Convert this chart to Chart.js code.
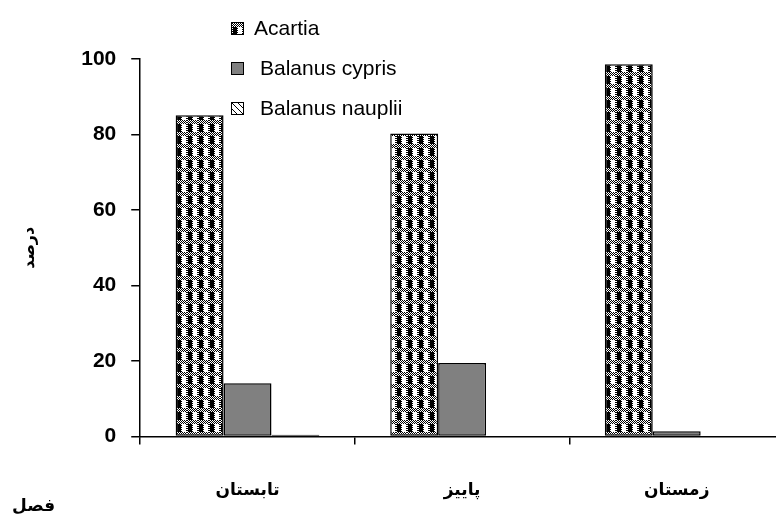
<!DOCTYPE html>
<html>
<head>
<meta charset="utf-8">
<script src="https://cdn.jsdelivr.net/npm/chart.js@4/dist/chart.umd.min.js"></script>
<style>
  body { margin: 0; background: #fff; overflow: hidden; width: 776px; height: 524px; position: relative; }
  #legend { position: absolute; left: 231px; top: 16px; display: flex; flex-direction: column; gap: 16px;
            font-family: "Liberation Sans", Arial, sans-serif; font-size: 21px; color: #000; }
  #legend div { display: flex; align-items: center; height: 24px; }
  #legend span.box { width: 11px; height: 11px; border: 1px solid #000; margin-right: 10px; display: inline-block; }
  #legend div.sp span.box { margin-right: 16px; }
</style>
</head>
<body>
<canvas id="chart" width="784" height="524"></canvas>
<div id="legend"></div>
<script>
var seasons = ["تابستان", "پاییز", "زمستان"];
var acartia = [85.1, 80.3, 98.6];
var cypris = [14.1, 19.5, 1.4];
var nauplii = [0.5, 0, 0];
var yTicks = [0, 20, 40, 60, 80, 100];

// pattern tiles, like the excel fills
function checkTile() {
    var c = document.createElement('canvas');
    c.width = 11; c.height = 12;
    var g = c.getContext('2d');
    g.fillStyle = '#fff';
    g.fillRect(0, 0, 11, 12);
    g.fillStyle = '#000';
    for (var y = 0; y < 12; y++) {
        for (var x = 0; x < 11; x++) {
            var dotted = y < 4 || x == 0 || x == 5 || x == 10;
            if (dotted && (x + y) % 2 == 0) g.fillRect(x, y, 1, 1);
        }
    }
    g.fillRect(1, 4, 4, 8);
    return c;
}
function diagTile() {
    var c = document.createElement('canvas');
    c.width = 6; c.height = 6;
    var g = c.getContext('2d');
    g.fillStyle = '#fff';
    g.fillRect(0, 0, 6, 6);
    g.fillStyle = '#000';
    for (var i = 0; i < 6; i++) g.fillRect(i, i, 1, 1);
    return c;
}

var ctx = document.getElementById("chart").getContext('2d');
var tiles = [checkTile(), null, diagTile()];
var fills = [ctx.createPattern(tiles[0], 'repeat'), '#808080', ctx.createPattern(tiles[2], 'repeat')];
var names = ["Acartia", "Balanus cypris", "Balanus nauplii"];
var series = [acartia, cypris, nauplii];

var datasets = series.map(function (d, i) {
    return {
        label: names[i],
        data: d,
        backgroundColor: fills[i],
        borderColor: '#000',
        borderWidth: 1.5,
        borderSkipped: false,
        categoryPercentage: 0.67,
        barPercentage: 1
    };
});

// x axis name sits bottom-left, under the y axis, as in the excel chart
var xName = {
    id: 'xName',
    afterDraw: function (chart) {
        var c = chart.ctx;
        c.save();
        c.font = 'bold 17px "DejaVu Sans"';
        c.fillStyle = '#000';
        c.textAlign = 'left';
        c.textBaseline = 'middle';
        c.fillText('فصل', 12, 507);
        c.restore();
    }
};

var chart = new Chart(ctx, {
    type: 'bar',
    data: { labels: seasons, datasets: datasets },
    options: {
        responsive: false,
        animation: false,
        layout: { padding: { left: 20, top: 59, bottom: -13, right: 0 } },
        plugins: {
            legend: { display: false },
            tooltip: { enabled: false }
        },
        scales: {
            x: {
                grid: { offset: true, drawOnChartArea: false, tickLength: 8, color: '#000', lineWidth: 1.5 },
                border: { color: '#000', width: 1.5 },
                ticks: { color: '#000', padding: 36, font: { family: 'DejaVu Sans', weight: 'bold', size: 17 } }
            },
            y: {
                min: 0,
                max: 100,
                afterBuildTicks: function (axis) {
                    axis.ticks = yTicks.map(function (v) { return { value: v }; });
                },
                grid: { drawOnChartArea: false, tickLength: 9, color: '#000', lineWidth: 1.5 },
                border: { color: '#000', width: 1.5 },
                ticks: { color: '#000', padding: 15, font: { family: 'Liberation Sans', weight: 'bold', size: 21 } },
                title: {
                    display: true,
                    text: 'درصد',
                    color: '#000',
                    font: { family: 'DejaVu Sans', weight: 'bold', size: 16 },
                    padding: { top: 0, bottom: 27 }
                }
            }
        }
    },
    plugins: [xName]
});

// legend drawn as html, floating over the plot like the original
var legend = document.getElementById('legend');
names.forEach(function (n, i) {
    var row = document.createElement('div');
    if (i > 0) row.className = 'sp';
    var box = document.createElement('span');
    box.className = 'box';
    if (tiles[i]) box.style.background = 'url(' + tiles[i].toDataURL() + ')';
    else box.style.background = fills[i];
    row.appendChild(box);
    row.appendChild(document.createTextNode(n));
    legend.appendChild(row);
});
</script>
</body>
</html>
